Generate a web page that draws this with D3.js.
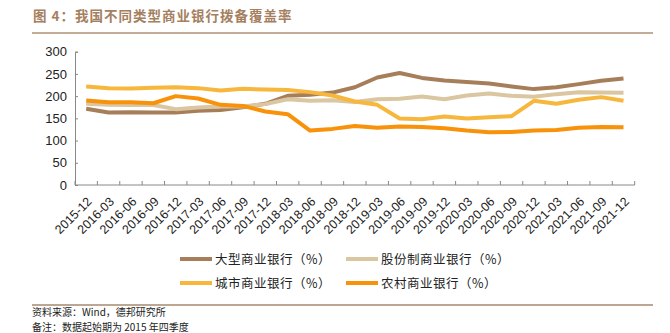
<!DOCTYPE html>
<html><head><meta charset="utf-8">
<script src="https://cdn.jsdelivr.net/npm/d3@7"></script>
<style>
body{margin:0;background:#fff;}
svg{display:block;}
</style></head>
<body><svg id="c" width="670" height="333"></svg>
<script>
const categories = ["2015-12","2016-03","2016-06","2016-09","2016-12","2017-03","2017-06","2017-09","2017-12","2018-03","2018-06","2018-09","2018-12","2019-03","2019-06","2019-09","2019-12","2020-03","2020-06","2020-09","2020-12","2021-03","2021-06","2021-09","2021-12"];
const largeBanks = [171.4,163,164,163,163,167,169,175,182.7,200.7,203,208,220,242,252,241,235,232,228.6,221.8,215.8,220,227,234.6,239.8];
const jointStock = [182.7,180.4,180,180,170.7,174.4,176.7,176.7,182,193,189.5,191,187,193,194,199,193,201.5,206,200.7,198.5,204.5,209,208,207.5];
const cityBanks = [221.8,218,217,218.8,220,218,212.8,216.5,215,214,209,201.5,188,180.4,149.6,148,154,149.6,152.7,155,189.5,182.7,191.7,197.8,189.5];
const ruralBanks = [190,186.5,186.5,184,200,194.7,180.4,178,165.4,159.4,122.5,126.3,133,128.6,131.5,130.8,127.8,122.5,118.8,119.5,122.5,124,128.6,130.8,130];
const yTicks = [0,50,100,150,200,250,300];
const seriesNames = ["大型商业银行（%）","股份制商业银行（%）","城市商业银行（%）","农村商业银行（%）"];
const seriesColors = ["#A67F5A","#DAC6A0","#F6B73C","#F7920A"];
const title = "图 4：我国不同类型商业银行拨备覆盖率";
const source = "资料来源：Wind，德邦研究所";
const note = "备注：数据起始期为 2015 年四季度";

const series = [largeBanks, jointStock, cityBanks, ruralBanks];
const svg = d3.select("#c");
const pL = 75, pR = 634.7, pT = 51.7, pB = 185;

// title
svg.append("text").attr("x",33).attr("y",21).text(title)
  .attr("font-family","'Noto Sans CJK SC'").attr("font-weight","bold")
  .attr("font-size",13.5).attr("fill","#A5805F").attr("letter-spacing","1px");
svg.append("line").attr("x1",32).attr("x2",653).attr("y1",33).attr("y2",33)
  .attr("stroke","#B09275").attr("stroke-width",1.6);

const x = d3.scaleBand().domain(categories).range([pL,pR]);
const y = d3.scaleLinear().domain([0,300]).range([pB,pT]);

// y axis
const ya = svg.append("g").attr("transform",`translate(${pL},0)`)
  .call(d3.axisLeft(y).tickValues(yTicks).tickSize(-3).tickPadding(8));
ya.select(".domain").attr("stroke","#888");
ya.selectAll(".tick line").attr("stroke","#888");
ya.selectAll("text").attr("font-family","'Liberation Sans',Arial").attr("font-size",13).attr("fill","#222");

// x axis
const xa = svg.append("g").attr("transform",`translate(0,${pB})`)
  .call(d3.axisBottom(x).tickSize(0).tickPadding(6));
xa.select(".domain").attr("stroke","#888").attr("d",`M${pL},0H${pR}`);
const bounds = categories.map((c,i)=>x(c)).concat([pR]);
xa.selectAll(".bt").data(bounds).enter().append("line").attr("class","bt")
  .attr("x1",d=>d).attr("x2",d=>d).attr("y1",0).attr("y2",-4).attr("stroke","#888");
xa.selectAll(".tick text")
  .attr("font-family","'Liberation Sans',Arial").attr("font-size",12.5).attr("fill","#222")
  .attr("text-anchor","end").attr("dy","0.35em")
  .attr("transform","translate(-1,10) rotate(-45)");

// lines
const line = d3.line().x((d,i)=>x(categories[i])+x.bandwidth()/2).y(d=>y(d));
series.forEach((s,k)=>{
  svg.append("path").datum(s).attr("d",line).attr("fill","none")
    .attr("stroke",seriesColors[k]).attr("stroke-width",4).attr("stroke-linejoin","round");
});

// legend
const legPos = [[180,259],[346,259],[180,283],[346,283]];
seriesNames.forEach((n,k)=>{
  const [lx,ly] = legPos[k];
  svg.append("line").attr("x1",lx).attr("x2",lx+32).attr("y1",ly).attr("y2",ly)
    .attr("stroke",seriesColors[k]).attr("stroke-width",4);
  svg.append("text").attr("x",lx+35).attr("y",ly+4.5).text(n)
    .attr("font-family","'Noto Sans CJK SC'").attr("font-size",12.5).attr("fill","#222")
    .attr("letter-spacing","0.5px");
});

// footer
svg.append("line").attr("x1",32).attr("x2",653).attr("y1",305).attr("y2",305)
  .attr("stroke","#A88A6E").attr("stroke-width",1.5);
svg.append("text").attr("x",32).attr("y",316).text(source)
  .attr("font-family","'Noto Sans CJK SC'").attr("font-size",10).attr("fill","#222");
svg.append("text").attr("x",32).attr("y",331).text(note)
  .attr("font-family","'Noto Sans CJK SC'").attr("font-size",10).attr("fill","#222");
</script></body></html>
